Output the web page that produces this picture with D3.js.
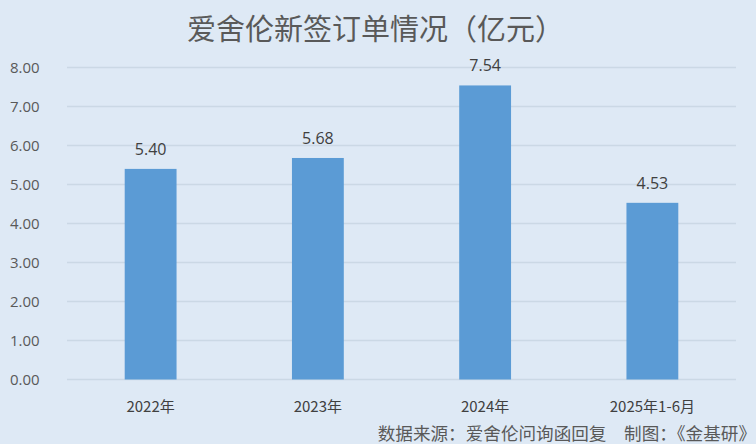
<!DOCTYPE html>
<html><head><meta charset="utf-8">
<script src="https://cdn.jsdelivr.net/npm/d3@7"></script>
<style>
html,body{margin:0;padding:0;background:#dee9f5;}
svg{display:block;}
text{font-family:"Noto Sans CJK SC","Open Sans",sans-serif;}
</style></head><body>
<svg id="c" width="756" height="444"></svg>
<script>
const categories = ["2022年","2023年","2024年","2025年1-6月"];
const values = [5.40, 5.68, 7.54, 4.53];
const yTicks = [0,1,2,3,4,5,6,7,8];
const title = "爱舍伦新签订单情况（亿元）";
const source = "数据来源：爱舍伦问询函回复　制图：《金基研》";

(function(){
const svg = d3.select("#c");
svg.append("rect").attr("width",756).attr("height",444).attr("fill","#dee9f5");
const pl = 67, pr = 736, pt = 67.5, pb = 379.5;
const x = d3.scaleBand().domain(categories).range([pl,pr]).paddingInner(0.69).paddingOuter(0.345);
const y = d3.scaleLinear().domain([0,8]).range([pb,pt]);

svg.append("g").selectAll("line").data(yTicks).join("line")
  .attr("x1",pl).attr("x2",pr)
  .attr("y1",d=>y(d)).attr("y2",d=>y(d))
  .attr("stroke","#cbd8e5").attr("stroke-width",1.5);

svg.append("g").selectAll("text").data(yTicks).join("text")
  .attr("x",10).attr("y",d=>y(d)).attr("dy","0.35em")
  .attr("font-size",15).attr("fill","#595959")
  .style("font-family","'Open Sans',sans-serif")
  .text(d=>d3.format(".2f")(d));

svg.append("g").selectAll("rect").data(values).join("rect")
  .attr("x",(d,i)=>x(categories[i])).attr("width",x.bandwidth())
  .attr("y",d=>y(d)).attr("height",d=>y(0)-y(d))
  .attr("fill","#5b9bd5");

svg.append("g").selectAll("text").data(values).join("text")
  .attr("x",(d,i)=>x(categories[i])+x.bandwidth()/2).attr("y",d=>y(d)-14)
  .attr("text-anchor","middle").attr("font-size",16).attr("fill","#404040")
  .style("font-family","'Open Sans',sans-serif")
  .text(d=>d3.format(".2f")(d));

svg.append("g").selectAll("text").data(categories).join("text")
  .attr("x",d=>x(d)+x.bandwidth()/2).attr("y",407).attr("dy","0.35em")
  .attr("text-anchor","middle").attr("font-size",15).attr("fill","#404040")
  .text(d=>d);

svg.append("text").attr("x",187).attr("y",30).attr("dy","0.35em")
  .attr("text-anchor","start").attr("font-size",29).attr("fill","#595959")
  .text(title);

svg.append("text").attr("x",756).attr("y",434).attr("dy","0.35em")
  .attr("text-anchor","end").attr("font-size",17.6).attr("fill","#595959")
  .text(source);
})();
</script></body></html>
